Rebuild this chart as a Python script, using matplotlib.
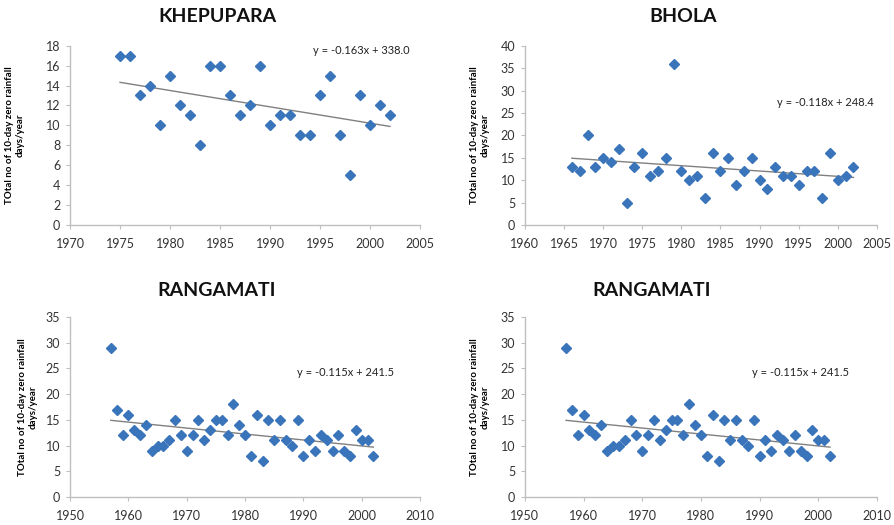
import numpy as np
import matplotlib
matplotlib.use("Agg")
import matplotlib.pyplot as plt

plt.rcParams['font.family'] = ['Lato', 'DejaVu Sans']

# ---- data ----
khep_years = list(range(1975, 2003))
khep_vals = [17, 17, 13, 14, 10, 15, 12, 11, 8, 16, 16, 13, 11, 12, 16, 10,
             11, 11, 9, 9, 13, 15, 9, 5, 13, 10, 12, 11]

bhola_years = list(range(1966, 2003))
bhola_vals = [13, 12, 20, 13, 15, 14, 17, 5, 13, 16, 11, 12, 15, 36, 12, 10,
              11, 6, 16, 12, 15, 9, 12, 15, 10, 8, 13, 11, 11, 9, 12, 12,
              6, 16, 10, 11, 13]

rang_years = list(range(1957, 2003))
rang_vals = [29, 17, 12, 16, 13, 12, 14, 9, 10, 10, 11, 15, 12, 9, 12, 15,
             11, 13, 15, 15, 12, 18, 14, 12, 8, 16, 7, 15, 11, 15, 11, 10,
             15, 8, 11, 9, 12, 11, 9, 12, 9, 8, 13, 11, 11, 8]

titles = ["KHEPUPARA", "BHOLA", "RANGAMATI", "RANGAMATI"]
equations = ["y = -0.163x + 338.0", "y = -0.118x + 248.4",
             "y = -0.115x + 241.5", "y = -0.115x + 241.5"]
ylabel = "TOtal no of 10-day zero rainfall\ndays/year"

panels = [
    dict(x=khep_years, y=khep_vals, xlim=(1970, 2005), xstep=5, ylim=(0, 18), ystep=2,
         rect=[0.0783, 0.5714, 0.3915, 0.3416], eq_xy=(313, 50), title_xy=(217, 16), lpad=15),
    dict(x=bhola_years, y=bhola_vals, xlim=(1960, 2005), xstep=5, ylim=(0, 40), ystep=5,
         rect=[0.5872, 0.5714, 0.3937, 0.3416], eq_xy=(777, 102), title_xy=(683, 16), lpad=8),
    dict(x=rang_years, y=rang_vals, xlim=(1950, 2010), xstep=10, ylim=(0, 35), ystep=5,
         rect=[0.0783, 0.0533, 0.3915, 0.3429], eq_xy=(297, 372), title_xy=(217, 290), lpad=6),
    dict(x=rang_years, y=rang_vals, xlim=(1950, 2010), xstep=10, ylim=(0, 35), ystep=5,
         rect=[0.5872, 0.0533, 0.3937, 0.3429], eq_xy=(752, 372), title_xy=(652, 290), lpad=8),
]

W, H = 894, 525
fig = plt.figure(figsize=(W / 100, H / 100), dpi=100)

marker_color = '#3A74BA'
axis_color = '#BFBFBF'

for i, p in enumerate(panels):
    ax = fig.add_axes(p['rect'])
    x = np.array(p['x'], dtype=float)
    y = np.array(p['y'], dtype=float)
    ax.plot(x, y, linestyle='none', marker='D', markersize=5.6,
            color=marker_color, markeredgecolor=marker_color, zorder=3)
    k, b = np.polyfit(x, y, 1)
    xs = np.array([x.min(), x.max()])
    ax.plot(xs, k * xs + b, color='#808080', lw=1.0, zorder=2)

    ax.set_xlim(*p['xlim'])
    ax.set_ylim(*p['ylim'])
    ax.set_xticks(np.arange(p['xlim'][0], p['xlim'][1] + 0.1, p['xstep']))
    ax.set_yticks(np.arange(p['ylim'][0], p['ylim'][1] + 0.1, p['ystep']))
    for s in ['top', 'right']:
        ax.spines[s].set_visible(False)
    for s in ['left', 'bottom']:
        ax.spines[s].set_color(axis_color)
        ax.spines[s].set_linewidth(1.0)
    ax.tick_params(axis='both', direction='out', length=3, width=0.8,
                   color=axis_color, labelsize=9, labelcolor='#333333', pad=4)
    ax.tick_params(axis='x', pad=6)
    ax.set_ylabel(ylabel, fontsize=7, fontweight='bold', labelpad=p['lpad'],
                  linespacing=1.2)

    ex, ey = p['eq_xy']
    fig.text(ex / W, 1 - ey / H, equations[i], fontsize=8, color='#222222',
             ha='left', va='center')
    tx, ty = p['title_xy']
    fig.text(tx / W, 1 - ty / H, titles[i], fontsize=14, fontweight='bold',
             ha='center', va='center', color='#111111')

fig.savefig('out.png', dpi=100)
